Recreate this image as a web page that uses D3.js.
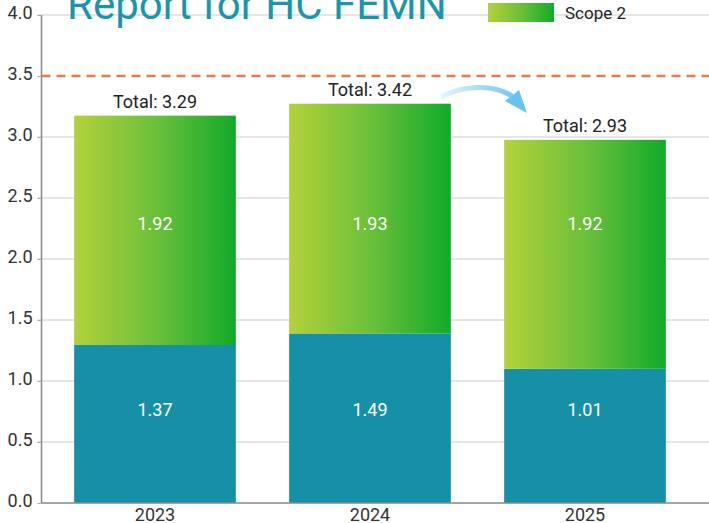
<!DOCTYPE html>
<html>
<head>
<meta charset="utf-8">
<script src="https://cdn.jsdelivr.net/npm/d3@7"></script>
<style>
  html, body { margin: 0; padding: 0; background: #fff; }
  svg { display: block; font-family: Roboto, "Noto Sans", sans-serif; }
</style>
</head>
<body>
<svg id="chart" width="709" height="523"></svg>
<script>
// ---- data ----
const years = ["2023", "2024", "2025"];
// segment heights as drawn in the picture
const scope1Values = [1.295, 1.39, 1.10];
const scope2Values = [1.88, 1.883, 1.877];
// printed labels
const scope1Labels = ["1.37", "1.49", "1.01"];
const scope2Labels = ["1.92", "1.93", "1.92"];
const totalLabels = ["3.29", "3.42", "2.93"];
const yTickValues = [0, 0.5, 1.0, 1.5, 2.0, 2.5, 3.0, 3.5, 4.0];
const targetValue = 3.5;
const scope1LabelLevel = 0.768;
const scope2LabelLevel = 2.287;
const titleText = "Report for HC FEMN";
const legendText = "Scope 2";

(function () {
const svg = d3.select("#chart");
const mLeft = 41.5, mRight = 709, mTop = 15, mBottom = 503;

const x = d3.scaleBand().domain(years).range([47.5, 692.5]).paddingInner(0.248).paddingOuter(0.124);
const y = d3.scaleLinear().domain([0, 4]).range([mBottom, mTop]);

// defs
const defs = svg.append("defs");
const g2 = defs.append("linearGradient").attr("id", "greenGrad").attr("x1", "0").attr("x2", "1").attr("y1", "0").attr("y2", "0");
g2.append("stop").attr("offset", "0%").attr("stop-color", "#b4d13a");
g2.append("stop").attr("offset", "50%").attr("stop-color", "#6cc03a");
g2.append("stop").attr("offset", "100%").attr("stop-color", "#12aa2b");
const ag = defs.append("linearGradient").attr("id", "arrowGrad").attr("gradientUnits", "userSpaceOnUse")
  .attr("x1", 440).attr("x2", 525).attr("y1", 0).attr("y2", 0);
ag.append("stop").attr("offset", "0%").attr("stop-color", "#e6f4fc");
ag.append("stop").attr("offset", "100%").attr("stop-color", "#66c2ee");

// gridlines
svg.append("g").selectAll("line").data(yTickValues.filter(d => d > 0 && d !== targetValue)).join("line")
  .attr("x1", mLeft - 4).attr("x2", mRight)
  .attr("y1", d => y(d)).attr("y2", d => y(d))
  .attr("stroke", "#cccccc").attr("stroke-width", 1);

// bars
const bars = svg.append("g");
years.forEach((yr, i) => {
  const s1 = scope1Values[i], s2 = scope2Values[i];
  bars.append("rect")
    .attr("x", x(yr)).attr("width", x.bandwidth())
    .attr("y", y(s1)).attr("height", y(0) - y(s1))
    .attr("fill", "#1690a7");
  bars.append("rect")
    .attr("x", x(yr)).attr("width", x.bandwidth())
    .attr("y", y(s1 + s2)).attr("height", y(s1) - y(s1 + s2))
    .attr("fill", "url(#greenGrad)");
  bars.append("text").attr("x", x(yr) + x.bandwidth() / 2).attr("y", y(scope1LabelLevel))
    .attr("text-anchor", "middle").attr("dominant-baseline", "central")
    .attr("fill", "#ffffff").attr("font-size", 18).text(scope1Labels[i]);
  bars.append("text").attr("x", x(yr) + x.bandwidth() / 2).attr("y", y(scope2LabelLevel))
    .attr("text-anchor", "middle").attr("dominant-baseline", "central")
    .attr("fill", "#ffffff").attr("font-size", 18).text(scope2Labels[i]);
  bars.append("text").attr("x", x(yr) + x.bandwidth() / 2).attr("y", y(s1 + s2) - 8)
    .attr("text-anchor", "middle")
    .attr("fill", "#222222").attr("font-size", 18).text("Total: " + totalLabels[i]);
});

// target line
svg.append("line")
  .attr("x1", mLeft).attr("x2", mRight)
  .attr("y1", y(targetValue)).attr("y2", y(targetValue))
  .attr("stroke", "#ec7a4e").attr("stroke-width", 2.5).attr("stroke-dasharray", "9,6");

// y axis
const yAxis = svg.append("g").attr("transform", `translate(${mLeft},0)`)
  .call(d3.axisLeft(y).tickValues(yTickValues).tickFormat(d3.format(".1f")).tickSize(4).tickPadding(5));
yAxis.select(".domain").attr("stroke", "#888888").attr("stroke-width", 1.5).attr("d", `M0,${mTop}V${mBottom}`);
yAxis.selectAll(".tick line").attr("stroke", "#aaaaaa");
yAxis.selectAll(".tick text").attr("font-size", 18).attr("fill", "#333333").attr("font-family", "Roboto").attr("dy", "0.22em");

// x axis
const xAxis = svg.append("g").attr("transform", `translate(0,${mBottom})`)
  .call(d3.axisBottom(x).tickSize(0).tickPadding(5));
xAxis.select(".domain").attr("stroke", "#888888").attr("stroke-width", 1.5).attr("d", `M${mLeft},0H${mRight}`);
xAxis.selectAll(".tick text").attr("font-size", 18).attr("fill", "#333333").attr("font-family", "Roboto");

// arrow
const arrow = svg.append("g");
arrow.append("path")
  .attr("d", "M441,97 C462,86 492,83 512,96")
  .attr("fill", "none").attr("stroke", "url(#arrowGrad)").attr("stroke-width", 5);
arrow.append("path")
  .attr("d", "M505,101 L519,90 L527,113 Z")
  .attr("fill", "#66c2ee");

// title
svg.append("text").attr("x", 67).attr("y", 19)
  .attr("font-size", 42).attr("fill", "#1a96aa").text(titleText);

// legend
svg.append("rect").attr("x", 488).attr("y", 3).attr("width", 66).attr("height", 19)
  .attr("fill", "url(#greenGrad)");
svg.append("text").attr("x", 565).attr("y", 19).attr("font-size", 17).attr("fill", "#222222").text(legendText);
})();
</script>
</body>
</html>
